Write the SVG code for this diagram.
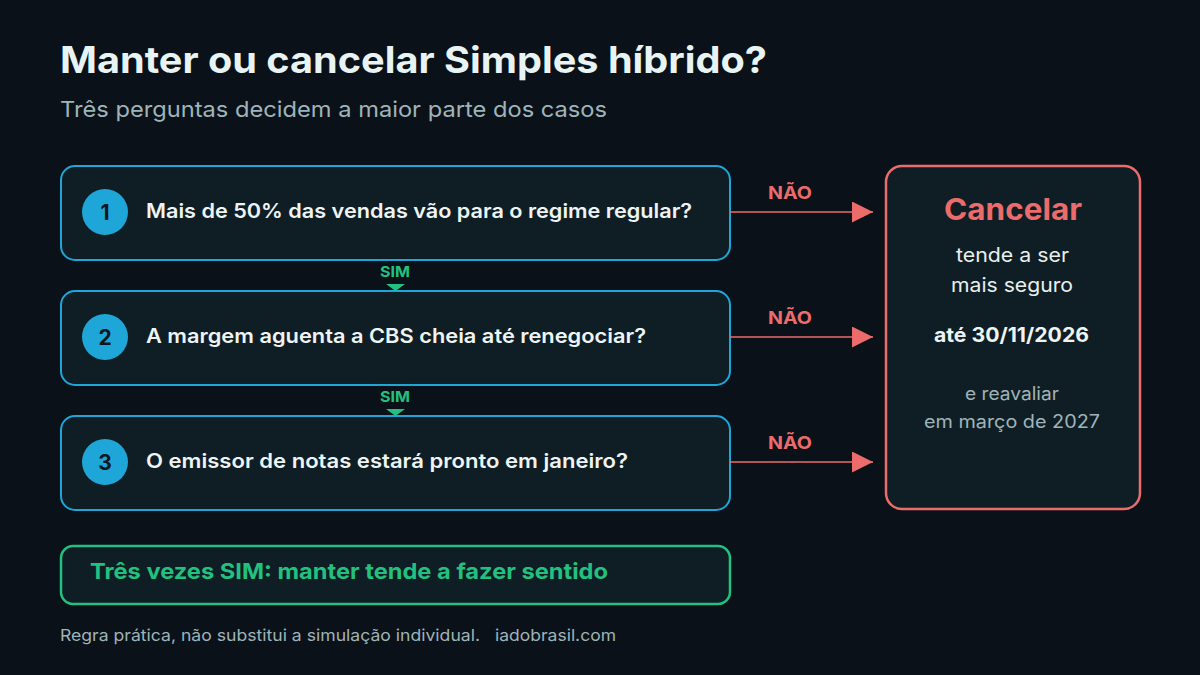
<svg xmlns="http://www.w3.org/2000/svg" width="1200" height="675" viewBox="0 0 1200 675">
<defs>
<style>
text{font-family:Inter,"Noto Sans","DejaVu Sans",sans-serif}
.q{fill:#0f1e24;stroke:#1fa6d8;stroke-width:2}
.num{fill:#1fa6d8}
.numt{fill:#0a1620;font-size:21px;font-weight:700;text-anchor:middle}
.qt{fill:#eef4f4;font-size:20px;font-weight:600}
.sim{fill:#22c17f;font-size:15px;font-weight:700;text-anchor:middle}
.nao{fill:#ec6b6b;font-size:18px;font-weight:700;text-anchor:middle}
.ln{stroke:#ec6b6b;stroke-width:1.5;fill:none}
.ct{text-anchor:middle}
</style>
<marker id="ah" viewBox="0 0 10 10" refX="10" refY="5" markerWidth="21" markerHeight="21" markerUnits="userSpaceOnUse" orient="auto">
<path d="M0,0 L10,5 L0,10 Z" fill="#ec6b6b"/>
</marker>
</defs>
<rect width="1200" height="675" fill="#0a1118"/>
<g id="title">
<text x="60" y="73" fill="#e8f4f4" font-size="37" font-weight="700" textLength="707" lengthAdjust="spacingAndGlyphs">Manter ou cancelar Simples híbrido?</text>
<text x="60" y="117" fill="#9fb4b8" font-size="22" textLength="547" lengthAdjust="spacingAndGlyphs">Três perguntas decidem a maior parte dos casos</text>
</g>
<g id="q1">
<rect class="q" x="61" y="166" width="669" height="94" rx="14"/>
<circle class="num" cx="105" cy="212" r="23"/>
<text class="numt" x="105" y="219.5">1</text>
<text class="qt" x="146" y="218" textLength="546" lengthAdjust="spacingAndGlyphs">Mais de 50% das vendas vão para o regime regular?</text>
</g>
<g id="q2">
<rect class="q" x="61" y="291" width="669" height="94" rx="14"/>
<circle class="num" cx="105" cy="337" r="23"/>
<text class="numt" x="105" y="344.5">2</text>
<text class="qt" x="146" y="343" textLength="500" lengthAdjust="spacingAndGlyphs">A margem aguenta a CBS cheia até renegociar?</text>
</g>
<g id="q3">
<rect class="q" x="61" y="416" width="669" height="94" rx="14"/>
<circle class="num" cx="105" cy="462" r="23"/>
<text class="numt" x="105" y="469.5">3</text>
<text class="qt" x="146" y="468" textLength="482" lengthAdjust="spacingAndGlyphs">O emissor de notas estará pronto em janeiro?</text>
</g>
<g id="cancel">
<rect x="886" y="166" width="254" height="343" rx="16" fill="#0f1e24" stroke="#ec6b6b" stroke-width="2.5"/>
<text class="ct" x="1013" y="220" fill="#ec6b6b" font-size="30" font-weight="700" textLength="138" lengthAdjust="spacingAndGlyphs">Cancelar</text>
<text class="ct" x="1012.5" y="262" fill="#e8f0f0" font-size="19.5" textLength="113" lengthAdjust="spacingAndGlyphs">tende a ser</text>
<text class="ct" x="1012" y="292" fill="#e8f0f0" font-size="19.5" textLength="122" lengthAdjust="spacingAndGlyphs">mais seguro</text>
<text class="ct" x="1011.5" y="342" fill="#eef4f4" font-size="19.5" font-weight="700" textLength="155" lengthAdjust="spacingAndGlyphs">até 30/11/2026</text>
<text class="ct" x="1012" y="400" fill="#9fb4b8" font-size="18" textLength="94" lengthAdjust="spacingAndGlyphs">e reavaliar</text>
<text class="ct" x="1012" y="428" fill="#9fb4b8" font-size="18" textLength="176" lengthAdjust="spacingAndGlyphs">em março de 2027</text>
</g>
<g id="keep">
<rect x="61" y="546" width="669" height="58" rx="12" fill="#0f1e24" stroke="#22c17f" stroke-width="2.5"/>
<text x="90" y="579" fill="#22c17f" font-size="22" font-weight="700" textLength="518" lengthAdjust="spacingAndGlyphs">Três vezes SIM: manter tende a fazer sentido</text>
</g>
<g id="connectors">
<text class="sim" x="395" y="277" textLength="30" lengthAdjust="spacingAndGlyphs">SIM</text>
<path d="M386,284 L405,284 L395.5,291 Z" fill="#22c17f"/>
<text class="sim" x="395" y="402" textLength="30" lengthAdjust="spacingAndGlyphs">SIM</text>
<path d="M386,409 L405,409 L395.5,416 Z" fill="#22c17f"/>
<text class="nao" x="790" y="198.5" textLength="44" lengthAdjust="spacingAndGlyphs">NÃO</text>
<line class="ln" x1="730" y1="212" x2="873" y2="212" marker-end="url(#ah)"/>
<text class="nao" x="790" y="323.5" textLength="44" lengthAdjust="spacingAndGlyphs">NÃO</text>
<line class="ln" x1="730" y1="337" x2="873" y2="337" marker-end="url(#ah)"/>
<text class="nao" x="790" y="448.5" textLength="44" lengthAdjust="spacingAndGlyphs">NÃO</text>
<line class="ln" x1="730" y1="462" x2="873" y2="462" marker-end="url(#ah)"/>
</g>
<g id="footer">
<text x="60" y="641" fill="#9fb4b8" font-size="16.5" textLength="420" lengthAdjust="spacingAndGlyphs">Regra prática, não substitui a simulação individual.</text>
<text x="495" y="641" fill="#9fb4b8" font-size="16.5" textLength="121" lengthAdjust="spacingAndGlyphs">iadobrasil.com</text>
</g>
</svg>
